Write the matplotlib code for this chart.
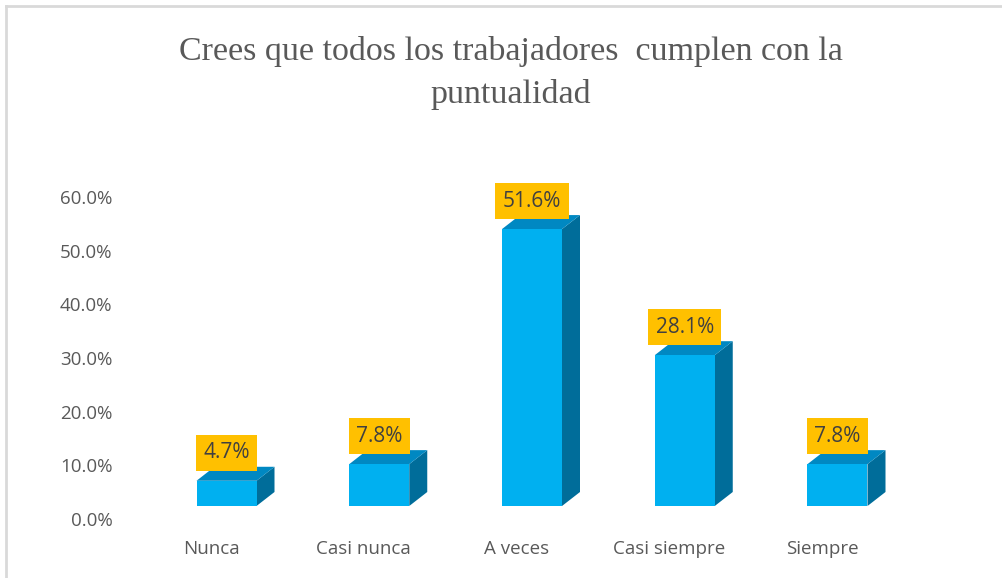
import numpy as np
import matplotlib.pyplot as plt
from matplotlib.patches import Polygon, Rectangle
from matplotlib.lines import Line2D

categories = ['Nunca', 'Casi nunca', 'A veces', 'Casi siempre', 'Siempre']
values = [4.7, 7.8, 51.6, 28.1, 7.8]
labels = ['4.7%', '7.8%', '51.6%', '28.1%', '7.8%']
yticks = [0, 10, 20, 30, 40, 50, 60]
title = 'Crees que todos los trabajadores  cumplen con la\npuntualidad'

W, H = 1003, 578
fig = plt.figure(figsize=(W / 100, H / 100), dpi=100)

# plot area in pixels
xmin, xmax = -0.6, 4.6
ymin, ymax = 0, 60
L = 211 - 0.6 * 152.75
R = L + (xmax - xmin) * 152.75
B = H - 519
T = H - 197
ax = fig.add_axes([L / W, B / H, (R - L) / W, (T - B) / H])
ax.set_xlim(xmin, xmax)
ax.set_ylim(ymin, ymax)

xpx = (R - L) / (xmax - xmin)
ypx = (T - B) / (ymax - ymin)

# 3D look: front face lifted, depth to the upper right
lift = 13 / ypx
dx = 18 / xpx
dy = 14 / ypx
shift = 15.5 / xpx
width = 60 / xpx

front_c = '#00B0F0'
top_c = '#0088C2'
side_c = '#006D9A'

x = np.arange(len(categories))
for xi, v, lab in zip(x, values, labels):
    x0 = xi + shift - width / 2
    x1 = xi + shift + width / 2
    y0 = lift
    y1 = lift + v
    ax.add_patch(Polygon([(x1, y0), (x1 + dx, y0 + dy), (x1 + dx, y1 + dy), (x1, y1)],
                         closed=True, facecolor=side_c, edgecolor='none', clip_on=False))
    ax.add_patch(Polygon([(x0, y1), (x1, y1), (x1 + dx, y1 + dy), (x0 + dx, y1 + dy)],
                         closed=True, facecolor=top_c, edgecolor='none', clip_on=False))
    ax.add_patch(Rectangle((x0, y0), width, v, facecolor=front_c, edgecolor='none', clip_on=False))
    ax.text(xi + shift, y1 + 28 / ypx, lab, ha='center', va='center', fontsize=15,
            family='Open Sans', color='#404040', zorder=5,
            bbox=dict(boxstyle='square,pad=0.36', facecolor='#FFC000', edgecolor='none'))

ax.set_xticks(x)
ax.set_xticklabels(categories, fontsize=13.5, family='Open Sans', color='#595959')
ax.set_yticks(yticks)
ax.set_yticklabels([f'{t:.1f}%' for t in yticks], fontsize=13.5, family='Open Sans', color='#595959')
ax.tick_params(axis='both', length=0)
ax.tick_params(axis='x', pad=15)
ax.tick_params(axis='y', pad=5)
for s in ax.spines.values():
    s.set_visible(False)

fig.text(511 / W, 1 - 73 / H, title, ha='center', va='center', fontsize=24.5,
         family='Liberation Serif', color='#595959', linespacing=1.5)

# chart border (top and left only visible)
fig.add_artist(Line2D([6 / W, 6 / W], [0, 1 - 6 / H], color='#D9D9D9', lw=2))
fig.add_artist(Line2D([6 / W, 1], [1 - 6 / H, 1 - 6 / H], color='#D9D9D9', lw=2))

fig.savefig('out.png', dpi=100)
